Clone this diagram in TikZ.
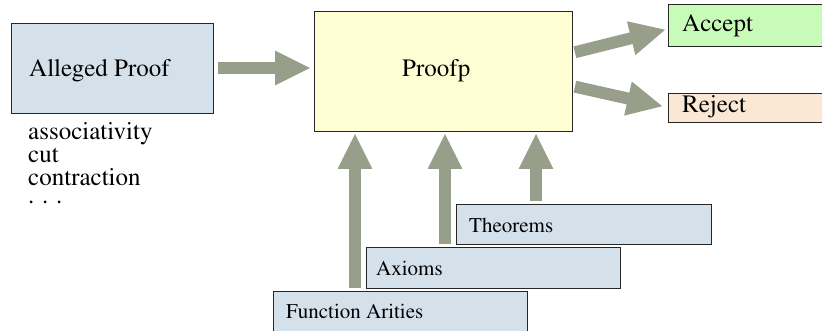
\documentclass[tikz,border=0pt]{standalone}
\usepackage[T1]{fontenc}
\usepackage{mathptmx}
\usetikzlibrary{arrows.meta}

\definecolor{boxblue}{HTML}{D4E1EB}
\definecolor{boxyellow}{HTML}{FFFDD3}
\definecolor{boxgreen}{HTML}{C8FBB8}
\definecolor{boxpeach}{HTML}{FAE8D5}
\definecolor{arrowgray}{HTML}{979E89}

\begin{document}
\begin{tikzpicture}[x=1pt,y=-1pt,
  box/.style={draw=black!85, line width=0.9pt, anchor=north west,
    inner sep=0pt, outer sep=0pt},
  bigtext/.style={anchor=base west, inner sep=0pt,
    font=\rmfamily\fontsize{25}{25}\selectfont},
  smalltext/.style={anchor=base west, inner sep=0pt,
    font=\rmfamily\fontsize{21}{21}\selectfont},
  fat/.style={draw=arrowgray, line width=12pt,
    -{Triangle[width=32pt,length=36pt]}}
]
\useasboundingbox (0,0) rectangle (822,331);

% input proof and the rules it uses
\node[box, fill=boxblue, minimum width=202pt, minimum height=90pt] (alleged) at (11,23) {};
\node[bigtext] (alleged-lbl) at (29,76.5) {Alleged Proof};
\node[bigtext] (rule1) at (28,140) {associativity};
\node[bigtext] (rule2) at (28,163) {cut};
\node[bigtext] (rule3) at (28,186) {contraction};
\node[bigtext] (rule4) at (28,204) {. . .};

% checker
\node[box, fill=boxyellow, minimum width=258pt, minimum height=120pt] (proofp) at (314,11) {};
\node[bigtext] (proofp-lbl) at (402,77) {Proofp};

% verdicts
\node[box, fill=boxgreen, minimum width=170pt, minimum height=42pt] (accept) at (668,4) {};
\node[bigtext] (accept-lbl) at (682,32) {Accept};
\node[box, fill=boxpeach, minimum width=170pt, minimum height=29pt] (reject) at (668,93) {};
\node[bigtext] (reject-lbl) at (682,112.5) {Reject};

% background knowledge
\node[box, fill=boxblue, minimum width=255pt, minimum height=40pt] (theorems) at (456,204) {};
\node[smalltext] (theorems-lbl) at (469,232.5) {Theorems};
\node[box, fill=boxblue, minimum width=254pt, minimum height=41pt] (axioms) at (366,247) {};
\node[smalltext] (axioms-lbl) at (376,275) {Axioms};
\node[box, fill=boxblue, minimum width=254pt, minimum height=50pt] (arities) at (273,291) {};
\node[smalltext] (arities-lbl) at (286,318) {Function Arities};

% columns of the upward arrows
\coordinate (col1) at (355,0);
\coordinate (col2) at (445,0);
\coordinate (col3) at (536,0);

% connectors
\draw[fat, shorten <=5pt, shorten >=3pt] (alleged.east) -- (alleged.east -| proofp.west);
\draw[fat, shorten <=3pt, shorten >=2pt] ([yshift=18pt]proofp.east) -- ([yshift=-4pt]accept.west);
\draw[fat, shorten <=3pt, shorten >=5pt] ([yshift=-15pt]proofp.east) -- (reject.west);
\draw[fat, shorten <=3pt, shorten >=2pt] (arities.north -| col1) -- (proofp.south -| col1);
\draw[fat, shorten <=3pt, shorten >=2pt] (axioms.north -| col2) -- (proofp.south -| col2);
\draw[fat, shorten <=3pt, shorten >=2pt] (theorems.north -| col3) -- (proofp.south -| col3);
\end{tikzpicture}
\end{document}
